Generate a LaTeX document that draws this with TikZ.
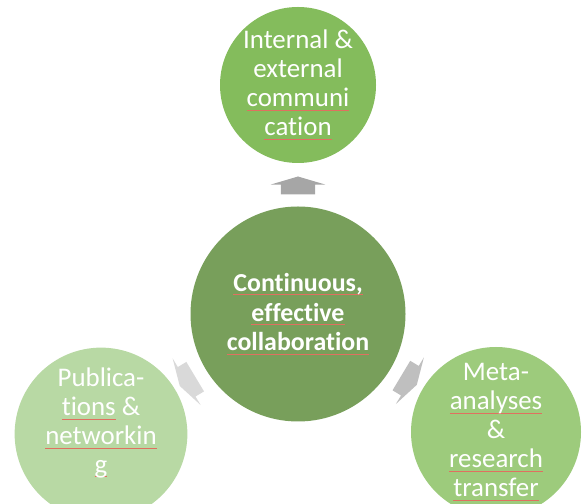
\documentclass[tikz,border=0pt]{standalone}
\usepackage{fontspec}
\setmainfont{Carlito}[Ligatures=NoCommon]
\usetikzlibrary{shapes.arrows,calc}

\definecolor{hubgreen}{HTML}{789F5B}
\definecolor{topgreen}{HTML}{84BC5C}
\definecolor{leftgreen}{HTML}{B8D9A4}
\definecolor{rightgreen}{HTML}{9DCB7C}
\definecolor{squigred}{HTML}{E07060}

\newsavebox{\squigbox}
\newcommand{\squig}[1]{\sbox{\squigbox}{#1}\rlap{\color{squigred}\rule[-4pt]{\wd\squigbox}{0.8pt}}\usebox{\squigbox}}

\begin{document}
\begin{tikzpicture}[
  x=1bp, y=1bp,
  hub/.style={circle, fill=hubgreen, minimum size=215bp, inner sep=0, align=center, text=white,
    font=\fontsize{26}{30}\selectfont\bfseries},
  leaf/.style={circle, inner sep=0, align=center, text=white, font=\fontsize{27}{29}\selectfont},
  spoke/.style={single arrow, draw=none, inner xsep=0, inner ysep=17bp, minimum height=18bp,
    single arrow head extend=10bp, single arrow tip angle=147}
]
\useasboundingbox (0,0) rectangle (583,504);
\node[hub] (hub) at (298,190) {\squig{Continuous,}\\\squig{effective}\\\squig{collaboration}};
\node[leaf, fill=topgreen, minimum size=156bp] (comm) at (298,419) {Internal \&\\external\\\squig{communi}\\\squig{cation}};
\node[leaf, fill=leftgreen, minimum size=172bp] (publ) at (101,70) {Publica-\\\squig{tions} \&\\\squig{networkin}\\\squig{g}\\[-2bp]};
\node[leaf, fill=rightgreen, minimum size=170bp] (meta) at (496,72) {Meta-\\\squig{analyses}\\\&\\\squig{research}\\\squig{transfer}};
\node[spoke, fill=black!35, rotate=90] (toComm) at ($(hub)!0.55!(comm)$) {};
\node[spoke, fill=black!15, rotate=211] (toPubl) at ($(hub)!0.55!(publ)$) {};
\node[spoke, fill=black!25, rotate=-31] (toMeta) at ($(hub)!0.55!(meta)$) {};
\end{tikzpicture}
\end{document}
